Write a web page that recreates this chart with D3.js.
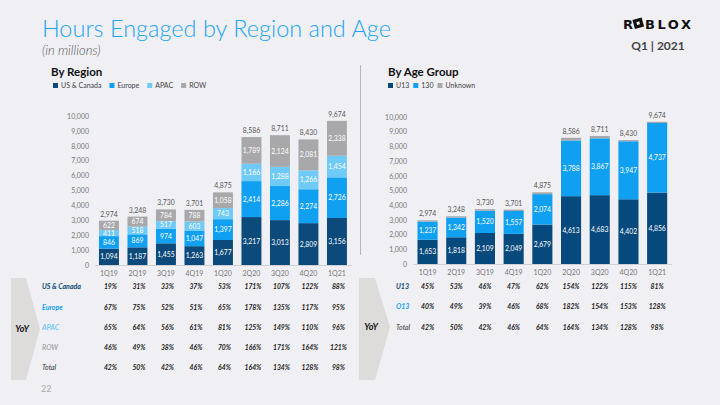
<!DOCTYPE html>
<html><head><meta charset="utf-8">
<script src="https://cdn.jsdelivr.net/npm/d3@7"></script>
<style>
html,body{margin:0;padding:0;background:#f0eff4;}
svg{display:block;font-family:Lato,"Open Sans",sans-serif;}
</style></head>
<body><svg id="c" width="720" height="405"></svg>
<script>
const quarters = ["1Q19","2Q19","3Q19","4Q19","1Q20","2Q20","3Q20","4Q20","1Q21"];
const regionNames = ["US & Canada","Europe","APAC","ROW"];
const usCanada = [1094,1187,1455,1263,1677,3217,3013,2809,3156];
const europe   = [846,869,974,1047,1397,2414,2286,2274,2726];
const apac     = [411,518,517,603,743,1166,1288,1266,1454];
const row      = [622,674,784,788,1058,1789,2124,2081,2338];
const totals   = [2974,3248,3730,3701,4875,8586,8711,8430,9674];
const ageNames = ["U13","130","Unknown"];
const u13      = [1653,1818,2109,2049,2679,4613,4683,4402,4856];
const o13      = [1237,1342,1520,1557,2074,3788,3867,3947,4737];
const unknown  = [84,88,101,95,122,185,161,81,81];
const yTicks   = [0,1000,2000,3000,4000,5000,6000,7000,8000,9000,10000];
const yoyRegionLabels = ["US & Canada","Europe","APAC","ROW","Total"];
const yoyRegion = [
  ["19%","31%","33%","37%","53%","171%","107%","122%","88%"],
  ["67%","75%","52%","51%","65%","178%","135%","117%","95%"],
  ["65%","64%","56%","61%","81%","125%","149%","110%","96%"],
  ["46%","49%","38%","46%","70%","166%","171%","164%","121%"],
  ["42%","50%","42%","46%","64%","164%","134%","128%","98%"]
];
const yoyAgeLabels = ["U13","O13","Total"];
const yoyAge = [
  ["45%","53%","46%","47%","62%","154%","122%","115%","81%"],
  ["40%","49%","39%","46%","68%","182%","154%","153%","128%"],
  ["42%","50%","42%","46%","64%","164%","134%","128%","98%"]
];

const svg = d3.select("#c");
const fmt = d3.format(",");

// Header
svg.append("text").attr("x",42).attr("y",37).attr("fill","#1ea4f1")
  .attr("font-size",23.5).attr("font-weight",300).text("Hours Engaged by Region and Age");
svg.append("text").attr("x",42).attr("y",55).attr("fill","#555")
  .attr("font-size",13).attr("font-style","italic").attr("font-weight",300).text("(in millions)");
// Logo
const logo = svg.append("g").attr("fill","#111");
logo.append("text").attr("x",623).attr("y",29).attr("font-size",13).attr("font-weight",900)
  .attr("font-family","'DejaVu Sans'").text("R");
logo.append("rect").attr("x",633.5).attr("y",18.5).attr("width",9.5).attr("height",9.5)
  .attr("transform","rotate(-15,638.2,23.2)");
logo.append("rect").attr("x",636.7).attr("y",21.7).attr("width",3).attr("height",3).attr("fill","#f0eff4")
  .attr("transform","rotate(-15,638.2,23.2)");
logo.append("text").attr("x",645).attr("y",29).attr("font-size",13).attr("font-weight",900)
  .attr("font-family","'DejaVu Sans'").attr("textLength",46).text("BLOX");
svg.append("text").attr("x",658).attr("y",49.5).attr("text-anchor","middle").attr("fill","#444")
  .attr("font-size",12).attr("font-weight",700).text("Q1 | 2021");

// divider
svg.append("line").attr("x1",360.5).attr("x2",360.5).attr("y1",65).attr("y2",255)
  .attr("stroke","#b5b5b8").attr("stroke-width",1);

function chart(opts){
  const {title, tx, legendNames, colors, series, r0, r1, y0, y1, axisX, legendX, legendGap} = opts;
  const g = svg.append("g");
  g.append("text").attr("x",tx).attr("y",76).attr("font-size",11.5).attr("font-weight",700)
    .attr("fill","#111").text(title);
  // legend
  let lx = legendX;
  legendNames.forEach((n,i)=>{
    g.append("rect").attr("x",lx).attr("y",83).attr("width",5).attr("height",5).attr("fill",colors[i]);
    const t = g.append("text").attr("x",lx+8).attr("y",88).attr("font-size",7).attr("fill","#444").text(n);
    lx += t.node().getComputedTextLength() + legendGap;
  });
  const x = d3.scaleBand().domain(quarters).range([r0,r1]).paddingInner(0.3).paddingOuter(0.15);
  const y = d3.scaleLinear().domain([0,10000]).range([y0,y1]);
  // y axis
  const ya = g.append("g").attr("transform",`translate(${axisX},0)`)
    .call(d3.axisLeft(y).tickValues(yTicks).tickFormat(fmt).tickSize(0).tickPadding(0));
  ya.select(".domain").remove();
  ya.selectAll("text").attr("font-size",7).attr("fill","#777").attr("font-family","Lato,'Open Sans',sans-serif");
  // x axis
  const xa = g.append("g").attr("transform",`translate(0,${y0})`)
    .call(d3.axisBottom(x).tickSize(0).tickPadding(6));
  xa.select(".domain").attr("stroke","#d0d0d4");
  xa.selectAll("text").attr("font-size",7).attr("fill","#777").attr("font-family","Lato,'Open Sans',sans-serif");
  // stacked bars
  const data = quarters.map((q,i)=>{ const o={q}; series.forEach((s,k)=>o[k]=s.vals[i]); return o;});
  const stack = d3.stack().keys(series.map((s,k)=>k))(data);
  stack.forEach((layer,k)=>{
    const lg = g.append("g");
    lg.selectAll("rect").data(layer).join("rect")
      .attr("x",d=>x(d.data.q)).attr("width",x.bandwidth())
      .attr("y",d=>y(d[1])).attr("height",d=>y(d[0])-y(d[1]))
      .attr("fill",colors[k]);
    if(series[k].label){
      lg.selectAll("text").data(layer).join("text")
        .attr("x",d=>x(d.data.q)+x.bandwidth()/2).attr("y",d=>(y(d[0])+y(d[1]))/2+2.5)
        .attr("text-anchor","middle").attr("font-size",6.8).attr("fill","#fff")
        .text(d=>fmt(d[1]-d[0]));
    }
  });
  const top = stack[stack.length-1];
  g.append("g").selectAll("text").data(top).join("text")
    .attr("x",d=>x(d.data.q)+x.bandwidth()/2).attr("y",(d,i)=>y(totals[i])-4)
    .attr("text-anchor","middle").attr("font-size",6.8).attr("fill","#555")
    .text((d,i)=>fmt(totals[i]));
  return x;
}

const xL = chart({title:"By Region", tx:51, legendNames:regionNames,
  colors:["#0b4a7b","#10a0f2","#6fcaf7","#a8a8aa"],
  series:[{vals:usCanada,label:1},{vals:europe,label:1},{vals:apac,label:1},{vals:row,label:1}],
  r0:94.7, r1:351.2, y0:265, y1:116, axisX:89, legendX:53, legendGap:16});
const xR = chart({title:"By Age Group", tx:388, legendNames:ageNames,
  colors:["#06497d","#0fa0f1","#a8a8aa"],
  series:[{vals:u13,label:1},{vals:o13,label:1},{vals:unknown,label:0}],
  r0:413.2, r1:671.5, y0:264, y1:117, axisX:407, legendX:388, legendGap:12});

// YoY tables
const arrowFill = "#dddcdb";
svg.append("path").attr("d","M11,278 L26,278 L40,329 L26,380 L11,380 Z").attr("fill",arrowFill);
svg.append("path").attr("d","M359,278 L375,278 L390,327 L375,380 L359,380 Z").attr("fill",arrowFill);
svg.append("text").attr("x",22).attr("y",332).attr("text-anchor","middle").attr("font-size",9)
  .attr("font-weight",700).attr("font-style","italic").attr("fill","#111").text("YoY");
svg.append("text").attr("x",371).attr("y",330).attr("text-anchor","middle").attr("font-size",9)
  .attr("font-weight",700).attr("font-style","italic").attr("fill","#111").text("YoY");

const regionLabelColors = ["#0b4a7b","#10a0f2","#6fcaf7","#a8a8aa","#333"];
const rowYL = [286,307,327,347,367];
yoyRegionLabels.forEach((lab,i)=>{
  svg.append("text").attr("x",42).attr("y",rowYL[i]+2.5).attr("font-size",7)
    .attr("font-weight",i<4?700:400).attr("font-style","italic").attr("fill",regionLabelColors[i]).text(lab);
  svg.append("g").selectAll("text").data(yoyRegion[i]).join("text")
    .attr("x",(d,j)=>xL(quarters[j])+xL.bandwidth()/2+1.5).attr("y",rowYL[i]+2.5)
    .attr("text-anchor","middle").attr("font-size",6.8).attr("font-weight",700).attr("font-style","italic")
    .attr("fill","#1a1a1a").text(d=>d);
});
const ageLabelColors = ["#0b4a7b","#10a0f2","#333"];
const rowYR = [286,306,327];
yoyAgeLabels.forEach((lab,i)=>{
  svg.append("text").attr("x",396).attr("y",rowYR[i]+2.5).attr("font-size",7)
    .attr("font-weight",i<2?700:400).attr("font-style","italic").attr("fill",ageLabelColors[i]).text(lab);
  svg.append("g").selectAll("text").data(yoyAge[i]).join("text")
    .attr("x",(d,j)=>xR(quarters[j])+xR.bandwidth()/2).attr("y",rowYR[i]+2.5)
    .attr("text-anchor","middle").attr("font-size",6.8).attr("font-weight",700).attr("font-style","italic")
    .attr("fill","#1a1a1a").text(d=>d);
});

svg.append("text").attr("x",41).attr("y",392).attr("font-size",9).attr("fill","#aaa").text("22");
</script></body></html>
